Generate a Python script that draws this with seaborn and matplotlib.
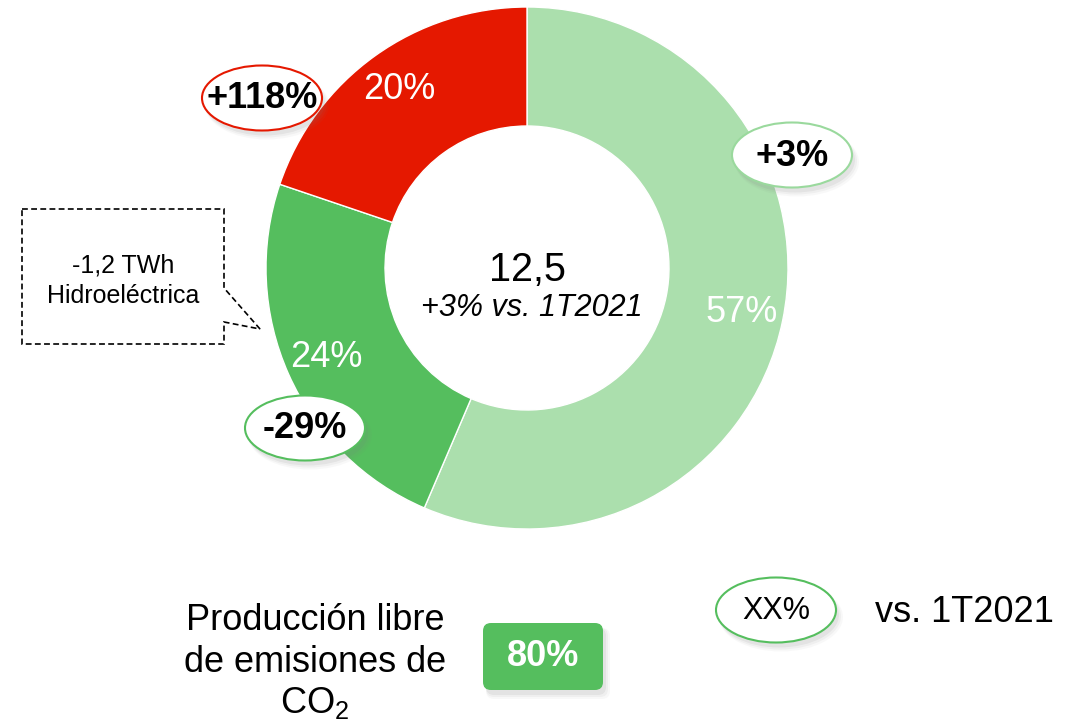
import matplotlib.pyplot as plt
import seaborn as sns
from matplotlib.patches import Ellipse, FancyBboxPatch, Polygon

sns.set_theme(style="white")
plt.rcParams['font.family'] = ['Liberation Sans', 'DejaVu Sans']
plt.rcParams['text.color'] = 'black'
plt.rcParams['mathtext.fontset'] = 'custom'
plt.rcParams['mathtext.rm'] = 'Liberation Sans'
plt.rcParams['mathtext.default'] = 'regular'

# Data
segments = ["libre_co2", "hidroelectrica", "fosil"]
shares = [57, 24, 20]
share_labels = ["57%", "24%", "20%"]
changes = ["+3%", "-29%", "+118%"]
total = "12,5"
total_change = "+3% vs. 1T2021"
free_co2 = "80%"
hydro_note = ["-1,2 TWh", "Hidroeléctrica"]

colors = ["#ABDFAD", "#55BE5E", "#E51800"]
bubble_edges = ["#9AD99D", "#55BE5E", "#E51800"]
bubble_pos = [(792, 155), (305, 428), (262, 98)]

fig = plt.figure(figsize=(10.84, 7.28), dpi=100)
ax = fig.add_axes([0, 0, 1, 1])

# donut (y axis inverted -> counterclock in data = clockwise on screen)
wedges, texts = ax.pie(shares, labels=share_labels, colors=colors,
                       startangle=-90, counterclock=True,
                       center=(527, 268), radius=261, labeldistance=0.84,
                       wedgeprops=dict(width=119, edgecolor='white', linewidth=1),
                       textprops=dict(color='white', fontsize=26))
for t in texts:
    t.set_ha('center')
    t.set_va('center')

ax.set_xlim(0, 1084)
ax.set_ylim(728, 0)
ax.set_aspect('equal')
ax.axis('off')

ax.text(528, 270, total, ha='center', va='center', fontsize=28.5, color='black')
ax.text(532, 308, total_change, ha='center', va='center', fontsize=22,
        style='italic', color='black')


def shadow(patch_fn):
    for k, a in enumerate([0.10, 0.07, 0.05]):
        ax.add_patch(patch_fn(3 + k, 5 + k, k, a))


def bubble(x, y, text, edge, bold=True, size=26):
    shadow(lambda dx, dy, k, a: Ellipse((x + dx, y + dy), 120 + 2 * k, 65 + 2 * k,
                                        facecolor='gray', edgecolor='none', alpha=a, zorder=3))
    ax.add_patch(Ellipse((x, y), 120, 65, facecolor='white', edgecolor=edge,
                         linewidth=1.5, zorder=4))
    ax.text(x, y + 1, text, ha='center', va='center', fontsize=size,
            fontweight='bold' if bold else 'normal', color='black', zorder=5)


for (bx, by), txt, ec in zip(bubble_pos, changes, bubble_edges):
    bubble(bx, by, txt, ec)

# dashed callout for hydro
callout = Polygon([(22, 209), (224, 209), (224, 288), (260, 329), (224, 322),
                   (224, 344), (22, 344)], closed=True, facecolor='white',
                  edgecolor='black', linewidth=1.2, linestyle=(0, (3.5, 2)), zorder=3)
ax.add_patch(callout)
ax.text(123, 265, hydro_note[0], ha='center', va='center', fontsize=18, color='black', zorder=4)
ax.text(123, 296, hydro_note[1], ha='center', va='center', fontsize=18, color='black', zorder=4)

# bottom: CO2-free production
ax.text(315, 630, "Producción libre", ha='center', va='baseline', fontsize=26, color='black')
ax.text(315, 672, "de emisiones de", ha='center', va='baseline', fontsize=26, color='black')
ax.text(315, 713, "CO$_2$", ha='center', va='baseline', fontsize=26, color='black')

shadow(lambda dx, dy, k, a: FancyBboxPatch((483 + dx - k, 623 + dy - k), 120 + 2 * k, 67 + 2 * k,
                                           boxstyle="round,pad=0,rounding_size=8",
                                           facecolor='gray', edgecolor='none', alpha=a, zorder=3))
ax.add_patch(FancyBboxPatch((483, 623), 120, 67, boxstyle="round,pad=0,rounding_size=8",
                            facecolor="#55BE5E", edgecolor='none', zorder=4))
ax.text(543, 657, free_co2, ha='center', va='center', fontsize=26,
        fontweight='bold', color='white', zorder=5)

# legend
bubble(776, 610, "XX%", "#55BE5E", bold=False, size=22)
ax.text(875, 612, "vs. 1T2021", ha='left', va='center', fontsize=26, color='black')

fig.savefig('out.png', dpi=100)
